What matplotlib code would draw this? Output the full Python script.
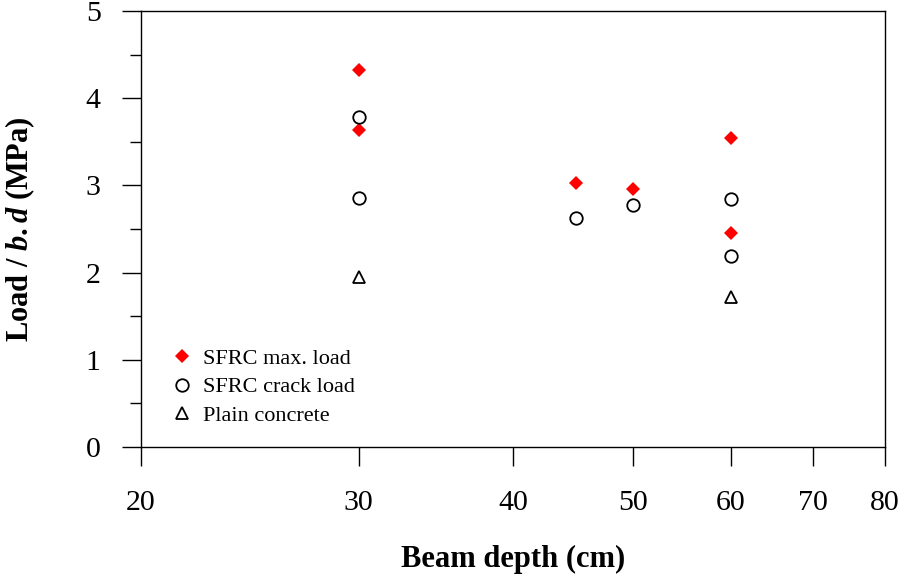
import matplotlib
matplotlib.use("Agg")
import matplotlib.pyplot as plt
from matplotlib.ticker import FixedLocator, NullLocator, MultipleLocator

plt.rcParams['font.family'] = ['Liberation Serif', 'DejaVu Serif']
plt.rcParams['mathtext.fontset'] = 'custom'
plt.rcParams['mathtext.rm'] = 'Liberation Serif:bold'
plt.rcParams['mathtext.it'] = 'Liberation Serif:bold:italic'
plt.rcParams['mathtext.bf'] = 'Liberation Serif:bold'

# Data
max_depth = [30, 30, 45, 50, 60, 60]
max_load = [4.32, 3.63, 3.03, 2.96, 3.54, 2.45]
crack_depth = [30, 30, 45, 50, 60, 60]
crack_load = [3.78, 2.86, 2.63, 2.78, 2.84, 2.19]
plain_depth = [30, 60]
plain_load = [1.95, 1.72]
x_ticks = [20, 30, 40, 50, 60, 70, 80]
y_ticks = [0, 1, 2, 3, 4, 5]

fig = plt.figure(figsize=(9.05, 5.78), dpi=100)
ax = fig.add_axes([141/905, 1-447/578, (885-141)/905, (447-11)/578])

ax.plot(max_depth, max_load, linestyle='none', marker='D', color='#ff0000',
        markersize=7.5, markeredgewidth=0, label='SFRC max. load')
ax.plot(crack_depth, crack_load, linestyle='none', marker='o', markerfacecolor='white',
        markeredgecolor='black', markersize=9, markeredgewidth=1.3, label='SFRC crack load')
ax.plot(plain_depth, plain_load, linestyle='none', marker='^', markerfacecolor='white',
        markeredgecolor='black', markersize=8.5, markeredgewidth=1.3, label='Plain concrete')

ax.set_xscale('log')
ax.set_xlim(20, 80)
ax.set_ylim(0, 5)
ax.xaxis.set_major_locator(FixedLocator(x_ticks))
ax.xaxis.set_minor_locator(NullLocator())
ax.set_xticklabels([str(t) for t in x_ticks])
ax.yaxis.set_major_locator(FixedLocator(y_ticks))
ax.yaxis.set_minor_locator(MultipleLocator(0.5))

ax.tick_params(axis='both', which='major', direction='out', length=14, width=1,
               labelsize=21.5)
ax.tick_params(axis='x', which='major', pad=17)
ax.tick_params(axis='y', which='major', pad=15)
ax.tick_params(axis='y', which='minor', direction='out', length=8, width=1)
for s in ax.spines.values():
    s.set_linewidth(1)

ax.set_xlabel('Beam depth (cm)', fontsize=22, fontweight='bold', labelpad=21)
ax.set_ylabel(r'Load / $\mathit{b{.}d}$ (MPa)', fontsize=22, fontweight='bold', labelpad=35)

leg = ax.legend(loc='upper left', bbox_to_anchor=(0.028, 0.247), frameon=False,
                fontsize=16, handletextpad=0.45, labelspacing=0.36, handlelength=1,
                borderaxespad=0)

fig.savefig('out.png', dpi=100)
